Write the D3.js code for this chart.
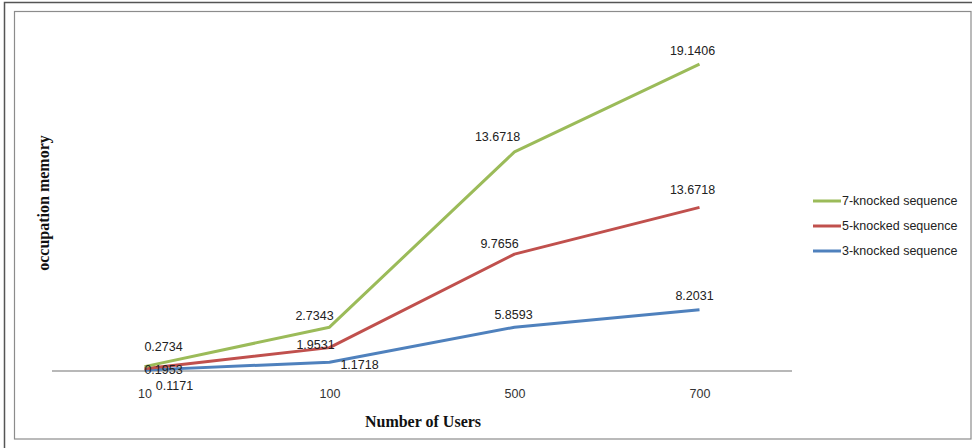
<!DOCTYPE html>
<html>
<head>
<meta charset="utf-8">
<script src="https://cdn.jsdelivr.net/npm/d3@7"></script>
<style>
  html, body { margin: 0; padding: 0; background: #fff; }
  svg { display: block; }
</style>
</head>
<body>
<svg id="chart" width="972" height="448"></svg>
<script>
// Memory occupation per number of users, stacked line chart
const categories = ["10", "100", "500", "700"];
const seriesNames = ["3-knocked sequence", "5-knocked sequence", "7-knocked sequence"];
const seq3 = [0.1171, 1.1718, 5.8593, 8.2031];
const seq5 = [0.1953, 1.9531, 9.7656, 13.6718];
const seq7 = [0.2734, 2.7343, 13.6718, 19.1406];
const seriesColors = ["#4F81BD", "#C0504D", "#9BBB59"];

// label nudges (dx, dy) relative to each point, per series
const labelNudge = [
  [[30, 18], [30, 5], [-1, -10], [-5, -12]],
  [[19, 3], [-14, -1], [-15, -8], [-7, -15]],
  [[19, -17], [-15, -9], [-17, -13], [-7, -11]]
];

const svg = d3.select("#chart");
const W = 972, H = 448;
const labelFont = "'Liberation Sans', Arial, sans-serif";

// frames
svg.append("rect").attr("x", 4.5).attr("y", 2.5).attr("width", W + 10).attr("height", H + 10)
  .attr("fill", "none").attr("stroke", "#555").attr("stroke-width", 1.5);
svg.append("rect").attr("x", 14.5).attr("y", 11.5).attr("width", 956.5).attr("height", 427.5)
  .attr("fill", "#fff").attr("stroke", "#8c8c8c").attr("stroke-width", 1.2);

const x = d3.scalePoint().domain(categories).range([144.5, 699.5]);
const y = d3.scaleLinear().domain([0, 45]).range([371, 34.4]);

// stack the series
const raw = [seq3, seq5, seq7];
const stacked = [];
raw.forEach((vals, si) => {
  stacked.push(vals.map((v, i) => ({
    cat: categories[i],
    value: v,
    top: v + (si > 0 ? stacked[si - 1][i].top : 0)
  })));
});

// category axis
const xAxis = d3.axisBottom(x).tickSize(0).tickPadding(18);
const gx = svg.append("g").attr("transform", "translate(0,371)").call(xAxis);
gx.select(".domain").remove();
gx.selectAll("text")
  .attr("font-family", labelFont)
  .attr("font-size", 12.5).attr("fill", "#333");
svg.append("line").attr("x1", 52).attr("x2", 792).attr("y1", 371).attr("y2", 371)
  .attr("stroke", "#a0a0a0").attr("stroke-width", 1.5);

// lines
const line = d3.line().x(d => x(d.cat)).y(d => y(d.top));
stacked.forEach((s, si) => {
  svg.append("path").datum(s)
    .attr("d", line)
    .attr("fill", "none")
    .attr("stroke", seriesColors[si])
    .attr("stroke-width", 3)
    .attr("stroke-linejoin", "round");
});

// value labels
stacked.forEach((s, si) => {
  svg.append("g").selectAll("text").data(s).join("text")
    .attr("x", (d, i) => x(d.cat) + labelNudge[si][i][0])
    .attr("y", (d, i) => y(d.top) + labelNudge[si][i][1])
    .attr("dy", "0.15em")
    .attr("text-anchor", "middle")
    .attr("font-family", labelFont)
    .attr("font-size", 12.5)
    .attr("fill", "#222")
    .text(d => d.value);
});

// axis titles
svg.append("text")
  .attr("x", 423).attr("y", 427)
  .attr("text-anchor", "middle")
  .attr("font-family", "'Liberation Serif', 'Times New Roman', serif")
  .attr("font-weight", "bold").attr("font-size", 16).attr("fill", "#111")
  .text("Number of Users");
svg.append("text")
  .attr("transform", "translate(43,203) rotate(-90)")
  .attr("dy", "0.35em")
  .attr("text-anchor", "middle")
  .attr("font-family", "'Liberation Serif', 'Times New Roman', serif")
  .attr("font-weight", "bold").attr("font-size", 16).attr("fill", "#111")
  .text("occupation memory");

// legend (top entry is the topmost series)
const legendOrder = [2, 1, 0];
const lg = svg.append("g").selectAll("g").data(legendOrder).join("g")
  .attr("transform", (d, i) => `translate(813,${201 + i * 25})`);
lg.append("line").attr("x1", 0).attr("x2", 28).attr("y1", 0).attr("y2", 0)
  .attr("stroke", d => seriesColors[d]).attr("stroke-width", 3);
lg.append("text").attr("x", 29).attr("dy", "0.35em")
  .attr("font-family", labelFont)
  .attr("font-size", 12.5).attr("fill", "#222")
  .text(d => seriesNames[d]);
</script>
</body>
</html>
